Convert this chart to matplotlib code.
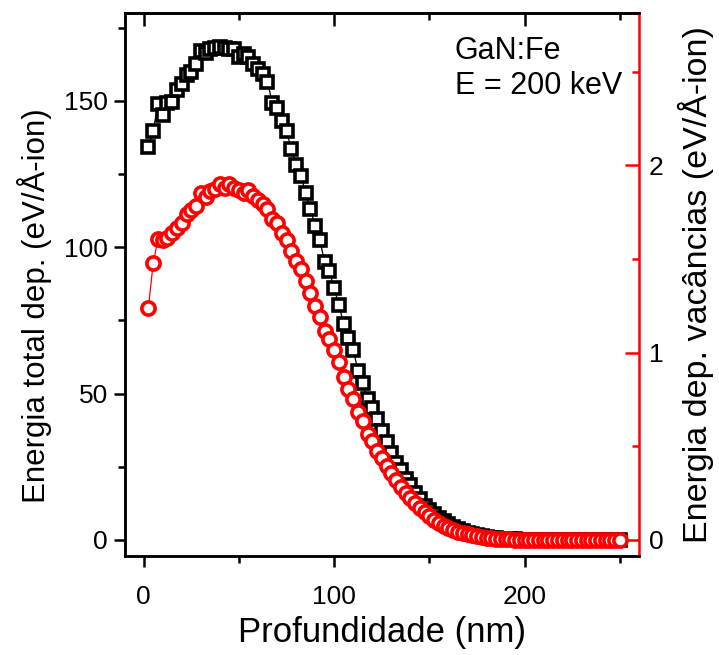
import numpy as np
import matplotlib
matplotlib.use("Agg")
import matplotlib.pyplot as plt
from matplotlib.ticker import MultipleLocator

plt.rcParams['font.family'] = ['Liberation Sans', 'DejaVu Sans']

depth = [2.5 * (i + 1) for i in range(100)]

energia_total = [
    134.4, 139.6, 149.1, 145.2, 149.4, 149.7, 153.6, 155.7, 158.7, 159.9,
    162.5, 167.0, 166.4, 167.6, 168.1, 168.4, 168.1, 167.9, 167.6, 165.0,
    165.9, 165.0, 162.5, 160.8, 159.1, 156.6, 149.4, 147.5, 143.2, 139.6,
    133.6, 128.2, 124.5, 118.5, 113.2, 107.2, 102.4, 95.0, 91.8, 86.0,
    80.3, 73.7, 69.1, 65.0, 57.9, 53.6, 48.0, 45.1, 41.4, 37.4,
    33.4, 29.8, 26.4, 23.9, 20.7, 18.7, 16.2, 13.9, 11.7, 10.3,
    8.8, 7.6, 6.5, 5.5, 4.6, 3.8, 3.1, 2.5, 2.0, 1.6,
    1.3, 1.0, 0.8, 0.6, 0.45, 0.35, 0.25, 0.18, 0.12, 0.08,
    0.05, 0.03, 0.02, 0.01, 0.0, 0.0, 0.0, 0.0, 0.0, 0.0,
    0.0, 0.0, 0.0, 0.0, 0.0, 0.0, 0.0, 0.0, 0.0, 0.0,
]

energia_vac = [
    1.241, 1.477, 1.605, 1.600, 1.614, 1.641, 1.668, 1.694, 1.739, 1.763,
    1.783, 1.851, 1.832, 1.863, 1.872, 1.899, 1.881, 1.899, 1.881, 1.868,
    1.854, 1.868, 1.836, 1.815, 1.792, 1.765, 1.712, 1.694, 1.641, 1.600,
    1.543, 1.490, 1.445, 1.383, 1.316, 1.250, 1.191, 1.116, 1.072, 1.013,
    0.948, 0.868, 0.805, 0.752, 0.684, 0.636, 0.565, 0.530, 0.476, 0.436,
    0.396, 0.356, 0.320, 0.284, 0.251, 0.222, 0.197, 0.171, 0.148, 0.126,
    0.108, 0.091, 0.077, 0.065, 0.054, 0.045, 0.037, 0.030, 0.024, 0.019,
    0.015, 0.012, 0.009, 0.007, 0.005, 0.004, 0.003, 0.002, 0.0015, 0.001,
    0.0, 0.0, 0.0, 0.0, 0.0, 0.0, 0.0, 0.0, 0.0, 0.0,
    0.0, 0.0, 0.0, 0.0, 0.0, 0.0, 0.0, 0.0, 0.0, 0.0,
]

fig = plt.figure(figsize=(7.19, 6.55), dpi=100)
ax = fig.add_axes([0.1733, 0.151, 0.7154, 0.829])
ax2 = ax.twinx()

ax.plot(depth, energia_total, color='black', lw=0.9, marker='s', ms=8.5,
        mfc='white', mec='black', mew=2.6)
ax2.plot(depth, energia_vac, color='red', lw=0.9, marker='o', ms=9.5,
         mfc='white', mec='red', mew=2.6)

ax.set_xlim(-10, 260)
ax.set_ylim(-5.5, 180)
ax2.set_ylim(-5.5 / 64.0, 180 / 64.0)

ax.xaxis.set_major_locator(MultipleLocator(100))
ax.xaxis.set_minor_locator(MultipleLocator(50))
ax.yaxis.set_major_locator(MultipleLocator(50))
ax.yaxis.set_minor_locator(MultipleLocator(25))
ax2.yaxis.set_major_locator(MultipleLocator(1))
ax2.yaxis.set_minor_locator(MultipleLocator(0.5))

for sp in ['left', 'top', 'bottom']:
    ax.spines[sp].set_linewidth(1.8)
    ax2.spines[sp].set_linewidth(1.8)
ax2.spines['right'].set_color('red')
ax2.spines['right'].set_linewidth(1.8)
ax.spines['right'].set_visible(False)

ax.tick_params(axis='x', which='both', bottom=True, top=False, direction='out',
               labelsize=19, width=1.8, pad=13)
ax.tick_params(axis='x', which='major', length=8)
ax.tick_params(axis='x', which='minor', length=5)
ax.tick_params(axis='y', which='both', left=True, right=False, direction='out',
               labelsize=19, width=1.8, pad=4)
ax.tick_params(axis='y', which='major', length=8)
ax.tick_params(axis='y', which='minor', length=5)

ax2.tick_params(axis='y', which='both', direction='in', colors='red',
                labelcolor='black', labelsize=19, width=1.8, pad=7)
ax2.tick_params(axis='y', which='major', length=10)
ax2.tick_params(axis='y', which='minor', length=5)

# top ticks inward via secondary axis
secx = ax.secondary_xaxis('top')
secx.xaxis.set_major_locator(MultipleLocator(100))
secx.xaxis.set_minor_locator(MultipleLocator(50))
secx.tick_params(axis='x', which='both', direction='in', labeltop=False, width=1.8)
secx.tick_params(axis='x', which='major', length=9)
secx.tick_params(axis='x', which='minor', length=5)
secx.spines['top'].set_linewidth(1.8)

ax.set_xlabel('Profundidade (nm)', fontsize=25, labelpad=5)
ax.set_ylabel('Energia total dep. (eV/Å-ion)', fontsize=22.5)
ax.yaxis.set_label_coords(-0.141, 0.462)
ax2.set_ylabel('Energia dep. vacâncias (eV/Å-ion)', fontsize=24.5, labelpad=10)

ax.text(0.642, 0.915, 'GaN:Fe', transform=ax.transAxes, fontsize=22,
        va='baseline', ha='left')
ax.text(0.642, 0.851, 'E = 200 keV', transform=ax.transAxes, fontsize=22,
        va='baseline', ha='left')

fig.savefig('out.png', dpi=100)
